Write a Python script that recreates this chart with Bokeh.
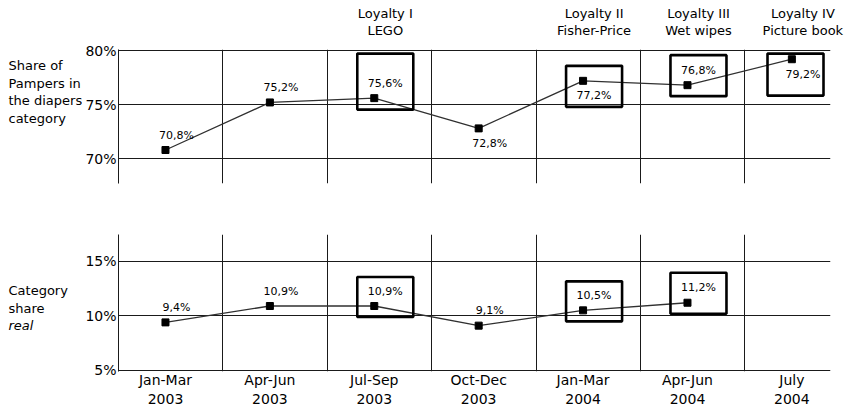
from bokeh.plotting import figure
from bokeh.layouts import column, row
from bokeh.models import FixedTicker, PrintfTickFormatter, Range1d
from bokeh.core.properties import value
from bokeh.embed import file_html
from bokeh.resources import INLINE

# ---------------- data ----------------
periods = ["Jan-Mar\n2003", "Apr-Jun\n2003", "Jul-Sep\n2003", "Oct-Dec\n2003",
           "Jan-Mar\n2004", "Apr-Jun\n2004", "July\n2004"]
pampers_share = [70.8, 75.2, 75.6, 72.8, 77.2, 76.8, 79.2]
category_share = [9.4, 10.9, 10.9, 9.1, 10.5, 11.2]
pampers_label_side = ["above", "above", "above", "below", "below", "above", "below"]
category_label_side = ["above", "above", "above", "above", "above", "above"]
loyalty_index = [2, 4, 5, 6]
loyalty_line1 = ["Loyalty I", "Loyalty II", "Loyalty III", "Loyalty IV"]
loyalty_line2 = ["LEGO", "Fisher-Price", "Wet wipes", "Picture book"]
category_box_index = [2, 4, 5]
top_ticks = [70, 75, 80]
bottom_ticks = [5, 10, 15]
top_title = ["Share of", "Pampers in", "the diapers", "category"]
bottom_title = ["Category", "share", "real"]

# ---------------- layout constants ----------------
FONT = value("DejaVu Sans")
TOTAL_W = 849
TITLE_W = 82
PW = TOTAL_W - TITLE_W
LEFT, RIGHT = 36, 19            # frame spans page x 118 .. 830
X_START, X_END = -0.45, 6.37
PPX = (PW - LEFT - RIGHT) / (X_END - X_START)

HEAD_H = 41
H1, TOP1, BOT1 = 150, 8, 8      # frame page y 49 .. 183
Y1 = (67.7, 80.1)
PPY1 = (H1 - TOP1 - BOT1) / (Y1[1] - Y1[0])

H2, TOP2, BOT2 = 219, 43, 39    # frame page y 234 .. 371
Y2 = (4.9, 17.45)
PPY2 = (H2 - TOP2 - BOT2) / (Y2[1] - Y2[0])

GRID_X = [i + 0.55 for i in range(len(periods) - 1)]
GRID_COLOR = "#1a1a1a"


def text_panel(w, h, xr, yr):
    p = figure(width=w, height=h, x_range=xr, y_range=yr,
               x_axis_type=None, y_axis_type=None, output_backend="svg",
               toolbar_location=None, min_border=0)
    p.outline_line_color = None
    p.background_fill_color = "white"
    p.border_fill_color = "white"
    return p


def make_fig(h, top, bot, yr, ticks):
    p = figure(width=PW, height=h, x_range=Range1d(X_START, X_END), y_range=Range1d(*yr),
               output_backend="svg", toolbar_location=None,
               min_border_left=LEFT, min_border_right=RIGHT,
               min_border_top=top, min_border_bottom=bot)
    p.outline_line_color = None
    p.background_fill_color = "white"
    p.border_fill_color = "white"
    p.xgrid.ticker = FixedTicker(ticks=GRID_X)
    p.ygrid.ticker = FixedTicker(ticks=ticks)
    for g in (p.xgrid, p.ygrid):
        g.grid_line_color = GRID_COLOR
        g.grid_line_width = 1
    p.yaxis.ticker = FixedTicker(ticks=ticks)
    p.yaxis.formatter = PrintfTickFormatter(format="%d%%")
    p.yaxis.major_tick_line_color = None
    p.yaxis.minor_tick_line_color = None
    p.yaxis.major_tick_out = 0
    p.yaxis.major_tick_in = 0
    p.yaxis.minor_tick_out = 0
    p.yaxis.axis_line_color = GRID_COLOR
    p.yaxis.major_label_standoff = 2
    p.yaxis.major_label_text_font = "DejaVu Sans"
    p.yaxis.major_label_text_font_size = "14px"
    p.yaxis.major_label_text_color = "black"
    return p


def draw_series(p, vals, sides, ppy, box_idx, box_heights, y_top):
    xs = list(range(len(vals)))
    p.line(xs, vals, line_color="#303030", line_width=1.3)
    p.scatter(xs, vals, marker="square", size=7, color="black")
    dx = 11 / PPX
    lx = [x + dx for x in xs]
    ly = [v + (15 / ppy if s == "above" else -15 / ppy) for v, s in zip(vals, sides)]
    txt = [("%.1f" % v).replace(".", ",") + "%" for v in vals]
    p.text(lx, ly, text=txt, text_font=FONT, text_font_size="11px",
           text_align="center", text_baseline="middle", text_color="black")
    bx, by, bh = [], [], []
    for i, h in zip(box_idx, box_heights):
        v = vals[i]
        if sides[i] == "above":
            cy = v - 11 / ppy + (h / 2) / ppy
        else:
            cy = v + 15 / ppy - (h / 2) / ppy
        cy = min(cy, y_top - (3 + h / 2) / ppy)
        cx = min(i + dx, X_END - (7 + 28) / PPX)
        bx.append(cx)
        by.append(cy)
        bh.append(h)
    p.rect(bx, by, width=56, height=bh, width_units="screen", height_units="screen",
           fill_color=None, line_color="black", line_width=2.6)


# ---------------- header (Loyalty programs) ----------------
head_x0 = X_START - (TITLE_W + LEFT) / PPX
head_x1 = head_x0 + TOTAL_W / PPX
head = text_panel(TOTAL_W, HEAD_H, Range1d(head_x0, head_x1), Range1d(HEAD_H, 0))
hx = [i + 11 / PPX for i in loyalty_index]
head.text(hx, [13] * len(hx), text=loyalty_line1, text_font=FONT, text_font_size="13px",
          text_align="center", text_baseline="middle", text_color="black")
head.text(hx, [30] * len(hx), text=loyalty_line2, text_font=FONT, text_font_size="13px",
          text_align="center", text_baseline="middle", text_color="black")

# ---------------- top panel ----------------
p1 = make_fig(H1, TOP1, BOT1, Y1, top_ticks)
p1.xaxis.visible = False
draw_series(p1, pampers_share, pampers_label_side, PPY1, loyalty_index, [56, 41, 41, 42], 80)

# titles share the panel's vertical scale (rows align frames)
t1 = text_panel(TITLE_W, H1, Range1d(0, TITLE_W), p1.y_range)
t1_y = [Y1[1] - (16 + 17.7 * k) / PPY1 for k in range(len(top_title))]
t1.text([8] * len(top_title), t1_y, text=top_title,
        text_font=FONT, text_font_size="13px", text_align="left", text_baseline="middle",
        text_color="black")

# ---------------- bottom panel ----------------
p2 = make_fig(H2, TOP2, BOT2, Y2, bottom_ticks)
p2.xaxis.ticker = FixedTicker(ticks=list(range(len(periods))))
p2.xaxis.major_label_overrides = {i: lab for i, lab in enumerate(periods)}
p2.xaxis.major_tick_line_color = None
p2.xaxis.minor_tick_line_color = None
p2.xaxis.major_tick_out = 0
p2.xaxis.major_tick_in = 0
p2.xaxis.minor_tick_out = 0
p2.xaxis.axis_line_color = None
p2.xaxis.major_label_standoff = 0
p2.xaxis.major_label_text_font = "DejaVu Sans"
p2.xaxis.major_label_text_font_size = "14px"
p2.xaxis.major_label_text_color = "black"
draw_series(p2, category_share, category_label_side, PPY2, category_box_index, [40, 40, 41], 17.45)

t2 = text_panel(TITLE_W, H2, Range1d(0, TITLE_W), p2.y_range)
t2_y = [Y2[1] - (56 + 17.5 * k) / PPY2 for k in range(len(bottom_title))]
t2.text([8, 8], t2_y[:2], text=bottom_title[:2], text_font=FONT, text_font_size="13px",
        text_align="left", text_baseline="middle", text_color="black")
t2.text([8], t2_y[2:], text=bottom_title[2:], text_font=FONT, text_font_size="13px",
        text_font_style="italic", text_align="left", text_baseline="middle", text_color="black")

layout = column(head, row(t1, p1, spacing=0), row(t2, p2, spacing=0), spacing=0)
open("out.html", "w").write(file_html(layout, INLINE))
